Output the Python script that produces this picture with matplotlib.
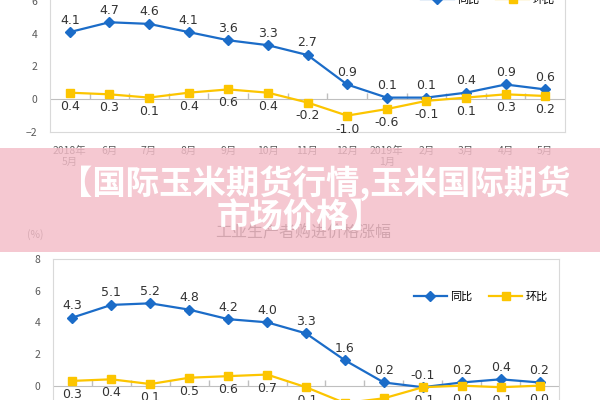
import numpy as np
import matplotlib.pyplot as plt
from matplotlib.patches import Rectangle

plt.rcParams['font.family'] = ['Noto Sans CJK SC', 'DejaVu Sans']

# 上图：工业生产者出厂价格涨幅
months = ['2018年\n5月', '6月', '7月', '8月', '9月', '10月', '11月', '12月',
          '2019年\n1月', '2月', '3月', '4月', '5月']
ppi_yoy = [4.1, 4.7, 4.6, 4.1, 3.6, 3.3, 2.7, 0.9, 0.1, 0.1, 0.4, 0.9, 0.6]
ppi_mom = [0.4, 0.3, 0.1, 0.4, 0.6, 0.4, -0.2, -1.0, -0.6, -0.1, 0.1, 0.3, 0.2]

# 下图：工业生产者购进价格涨幅
irm_yoy = [4.3, 5.1, 5.2, 4.8, 4.2, 4.0, 3.3, 1.6, 0.2, -0.1, 0.2, 0.4, 0.2]
irm_mom = [0.3, 0.4, 0.1, 0.5, 0.6, 0.7, -0.1, -1.1, -0.8, -0.1, 0.0, -0.1, 0.0]

blue = '#1b6cc8'
yellow = '#fcc500'
grey = '#595959'

fig = plt.figure(figsize=(6, 4), dpi=100)


def draw(ax, yoy, mom):
    x = np.arange(len(yoy))
    ax.plot(x, yoy, color=blue, lw=1.6, marker='D', ms=5, label='同比', zorder=3)
    ax.plot(x, mom, color=yellow, lw=1.6, marker='s', ms=6, label='环比', zorder=3)
    ax.axhline(0, color='#bfbfbf', lw=0.8, zorder=1)
    xb = np.arange(len(yoy) - 1) + 0.5
    ax.plot(xb, np.zeros(len(xb)), ls='none', marker=2, ms=4, color='#bfbfbf', zorder=1)
    for i in range(len(yoy)):
        ax.annotate('%.1f' % yoy[i], (x[i], yoy[i]), xytext=(0, 4), textcoords='offset points',
                    ha='center', va='bottom', fontsize=9, color='#333333', family='DejaVu Sans')
        ax.annotate('%.1f' % mom[i], (x[i], mom[i]), xytext=(0, -5), textcoords='offset points',
                    ha='center', va='top', fontsize=9, color='#333333', family='DejaVu Sans')
    ax.set_xlim(-0.5, len(yoy) - 0.5)
    ax.set_ylim(-2, 8)
    for s in ax.spines.values():
        s.set_color('#d9d9d9')
    ax.tick_params(axis='y', length=0, labelsize=7.5, labelcolor=grey, pad=9)
    return x


ax1 = fig.add_axes([50 / 600, 1 - 132 / 400, 515 / 600, 163.8 / 400])
x = draw(ax1, ppi_yoy, ppi_mom)
ax1.set_yticks([-2, 0, 2, 4, 6])
ax1.set_xticks(x)
ax1.set_xticklabels(months, fontsize=7.5, color=grey, linespacing=1.1)
ax1.tick_params(axis='x', length=0, pad=10)
ax1.legend(loc='center right', bbox_to_anchor=(565 / 600, 1.0), bbox_transform=fig.transFigure,
           ncol=2, frameon=False, fontsize=8, handlelength=3, columnspacing=1.5, handletextpad=0.3)

ax2 = fig.add_axes([53 / 600, 1 - 417.3 / 400, 506 / 600, 158.3 / 400])
draw(ax2, irm_yoy, irm_mom)
ax2.set_yticks([-2, 0, 2, 4, 6, 8])
ax2.set_xticks([])
ax2.legend(loc='center right', bbox_to_anchor=(558 / 600, 1 - 297 / 400), bbox_transform=fig.transFigure,
           ncol=2, frameon=False, fontsize=8, handlelength=3, columnspacing=1.5, handletextpad=0.3)

fig.text(35 / 600, 1 - 235 / 400, '(%)', ha='center', va='center', fontsize=7.5, color=grey)
fig.text(303 / 600, 1 - 233 / 400, '工业生产者购进价格涨幅', ha='center', va='center',
         fontsize=11.5, color='#404040')

# 粉色横幅
fig.patches.append(Rectangle((0, 1 - 252 / 400), 1, 104 / 400, transform=fig.transFigure,
                             facecolor='#f3bcc7', alpha=0.82, edgecolor='none', zorder=5))
fig.text(0.525, 1 - 183 / 400, '【国际玉米期货行情,玉米国际期货', ha='center', va='center',
         fontsize=24, color='white', weight='bold', zorder=6)
fig.text(0.5, 1 - 218 / 400, '市场价格】', ha='center', va='center',
         fontsize=24, color='white', weight='bold', zorder=6)

fig.savefig('out.png', dpi=100)
